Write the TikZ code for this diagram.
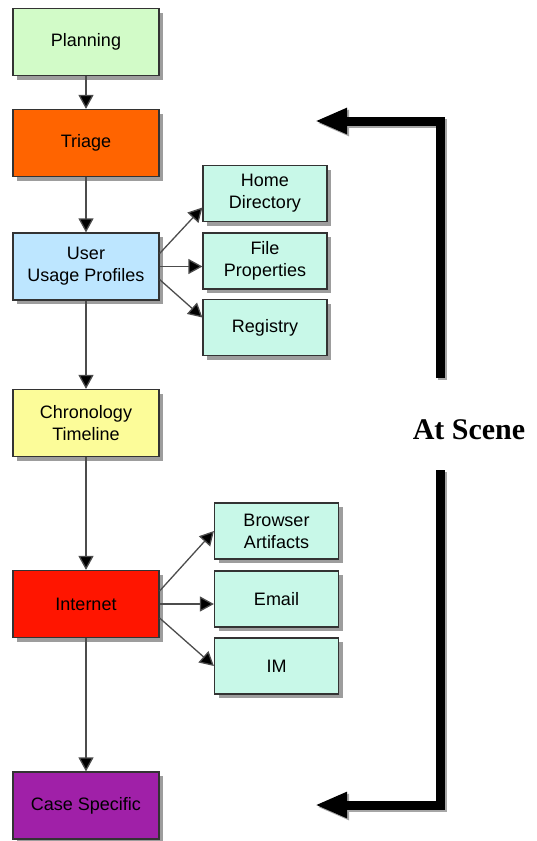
\documentclass[tikz,border=0pt]{standalone}
\usepackage{fontspec}
\setmainfont{Liberation Sans}
\newfontfamily\serifbold{Liberation Serif}
\usetikzlibrary{arrows.meta,shadows}
\definecolor{cplan}{HTML}{D2FBC8}
\definecolor{ctriage}{HTML}{FF6400}
\definecolor{cuser}{HTML}{BDE6FF}
\definecolor{cchrono}{HTML}{FCFC99}
\definecolor{cnet}{HTML}{FF1500}
\definecolor{ccase}{HTML}{A020A8}
\definecolor{cmint}{HTML}{C8F8E8}
\begin{document}
\begin{tikzpicture}[x=1pt,y=-1pt,
  box/.style={draw=black!80, line width=1.2pt, minimum width=146pt, minimum height=67pt,
    align=center, inner sep=2pt, font=\fontsize{18}{22}\selectfont,
    drop shadow={shadow xshift=4pt, shadow yshift=-4pt, opacity=0.55, fill=black!70}},
  sub/.style={box, minimum width=124pt, minimum height=56pt, fill=cmint},
  link/.style={draw=black!70, line width=1.3pt, -{Triangle[length=14pt 0 0,width=15pt 0 0,fill=black]}},
  big/.style={line width=9pt, line join=miter, -{Triangle[length=32pt 0 0,width=24pt 0 0]}},
  bigshadow/.style={line width=9pt, line join=miter, draw=black!35, -{Triangle[length=32pt 0 0,width=24pt 0 0]}}]
\useasboundingbox (0,0) rectangle (536,841);

\node[box, fill=cplan]   (plan)   at (86,42)    {Planning};
\node[box, fill=ctriage] (triage) at (86,143)   {Triage};
\node[box, fill=cuser]   (user)   at (86,266.5) {User\\Usage Profiles};
\node[box, fill=cchrono] (chrono) at (86,423)   {Chronology\\Timeline};
\node[box, fill=cnet]    (net)    at (86,604)   {Internet};
\node[box, fill=ccase]   (case)   at (86,805.5) {Case Specific};

\node[sub] (home) at (265,193.5) {Home\\Directory};
\node[sub] (file) at (265,261)   {File\\Properties};
\node[sub] (reg)  at (265,327.5) {Registry};

\node[sub] (brow) at (276.5,531) {Browser\\Artifacts};
\node[sub] (mail) at (276.5,599) {Email};
\node[sub] (im)   at (276.5,666) {IM};

\draw[link] (plan) -- (triage);
\draw[link] (triage) -- (user);
\draw[link] (user) -- (chrono);
\draw[link] (chrono) -- (net);
\draw[link] (net) -- (case);

\draw[link] ([yshift=13pt]user.east) -- ([yshift=-14pt]home.west);
\draw[link] ([yshift=0pt]user.east) -- ([yshift=-5.5pt]file.west);
\draw[link] ([yshift=-13pt]user.east) -- ([yshift=10pt]reg.west);

\draw[link] ([yshift=13pt]net.east) -- ([yshift=0pt]brow.west);
\draw[link] ([yshift=0pt]net.east) -- ([yshift=-5pt]mail.west);
\draw[link] ([yshift=-14pt]net.east) -- ([yshift=0pt]im.west);

\coordinate (t1) at (440,378);
\coordinate (t2) at (440,121);
\coordinate (t3) at (315,121);
\coordinate (b1) at (440,470);
\coordinate (b2) at (440,805);
\coordinate (b3) at (315,805);
\draw[bigshadow] ([shift={(2,2)}]t1) -- ([shift={(2,2)}]t2) -- ([shift={(2,2)}]t3);
\draw[bigshadow] ([shift={(2,2)}]b1) -- ([shift={(2,2)}]b2) -- ([shift={(2,2)}]b3);
\draw[big] (t1) -- (t2) -- (t3);
\draw[big] (b1) -- (b2) -- (b3);

\node[font=\serifbold\bfseries\fontsize{30}{34}\selectfont] (scene) at (469,430) {At Scene};
\end{tikzpicture}
\end{document}
